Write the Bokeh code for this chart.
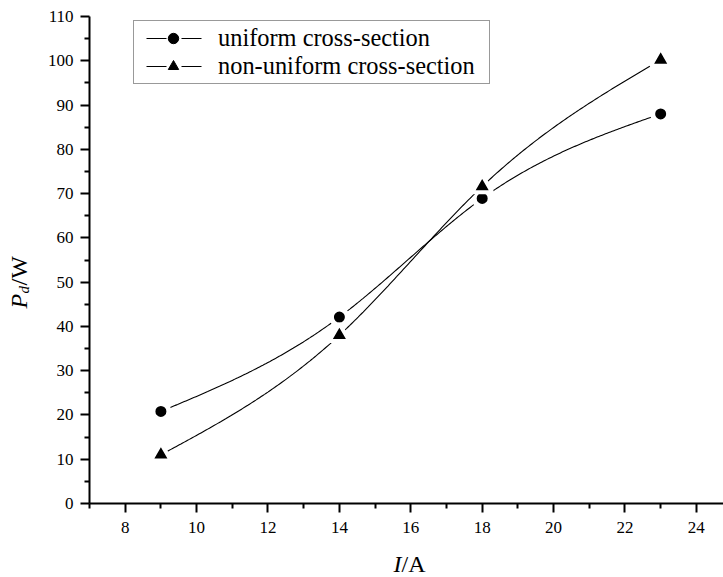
import numpy as np
from bokeh.plotting import figure
from bokeh.layouts import column, row
from bokeh.models import Range1d, FixedTicker, Legend, LegendItem, Label, LinearAxis
from bokeh.embed import file_html
from bokeh.resources import INLINE

# ---- data ----
current_a = [9, 14, 18, 23]
uniform_w = [20.8, 42.1, 68.9, 88.0]
nonuniform_w = [11.0, 38.0, 71.6, 100.2]
series_names = ["uniform cross-section", "non-uniform cross-section"]
x_ticks = [8, 10, 12, 14, 16, 18, 20, 22, 24]
x_minor = [7, 9, 11, 13, 15, 17, 19, 21, 23, 25]
y_ticks = [0, 10, 20, 30, 40, 50, 60, 70, 80, 90, 100, 110]
y_minor = [5, 15, 25, 35, 45, 55, 65, 75, 85, 95, 105]

SERIF = "Liberation Serif"
W, H = 723, 577
YSTRIP = 36          # width of the strip holding the y title
MAIN_H = 545         # height of the main chart figure


def natural_spline(xs, ys, n=300):
    xs = np.asarray(xs, float)
    ys = np.asarray(ys, float)
    m = len(xs)
    h = np.diff(xs)
    A = np.zeros((m, m))
    rhs = np.zeros(m)
    A[0, 0] = 1
    A[-1, -1] = 1
    for i in range(1, m - 1):
        A[i, i - 1] = h[i - 1]
        A[i, i] = 2 * (h[i - 1] + h[i])
        A[i, i + 1] = h[i]
        rhs[i] = 6 * ((ys[i + 1] - ys[i]) / h[i] - (ys[i] - ys[i - 1]) / h[i - 1])
    M = np.linalg.solve(A, rhs)
    xx = np.linspace(xs[0], xs[-1], n)
    idx = np.clip(np.searchsorted(xs, xx, side="right") - 1, 0, m - 2)
    x0 = xs[idx]
    x1 = xs[idx + 1]
    hh = x1 - x0
    t0 = x1 - xx
    t1 = xx - x0
    yy = (M[idx] * t0 ** 3 / (6 * hh) + M[idx + 1] * t1 ** 3 / (6 * hh)
          + (ys[idx] / hh - M[idx] * hh / 6) * t0
          + (ys[idx + 1] / hh - M[idx + 1] * hh / 6) * t1)
    return xx, yy


# ---------------- main chart ----------------
p = figure(width=W - YSTRIP, height=MAIN_H, output_backend="svg", toolbar_location=None,
           x_range=Range1d(7, 24.76), y_range=Range1d(0, 110),
           x_axis_type=None, y_axis_type=None,
           min_border_left=89 - YSTRIP, min_border_right=0, min_border_top=16,
           min_border_bottom=MAIN_H - 503, title=None)
p.outline_line_color = None
p.grid.visible = False
p.background_fill_color = "white"
p.border_fill_color = "white"

ax_style = dict(axis_line_width=2, axis_line_color="black",
                major_tick_line_width=2, minor_tick_line_width=2,
                major_tick_line_color="black", minor_tick_line_color="black",
                major_tick_out=9, major_tick_in=0, minor_tick_out=5, minor_tick_in=0,
                major_label_text_font="serif", major_label_text_font_size="17px",
                major_label_text_color="black")
xa = LinearAxis(ticker=FixedTicker(ticks=x_ticks, minor_ticks=x_minor),
                major_label_standoff=9, **ax_style)
ya = LinearAxis(ticker=FixedTicker(ticks=y_ticks, minor_ticks=y_minor),
                major_label_standoff=7, **ax_style)
p.add_layout(xa, "below")
p.add_layout(ya, "left")

markers = ["circle", "triangle"]
msize = [16, 20]
mline = [5, 4]
for ys, mk, s, lw in zip((uniform_w, nonuniform_w), markers, msize, mline):
    xx, yy = natural_spline(current_a, ys)
    p.line(xx, yy, line_color="black", line_width=1.1)
    p.scatter(current_a, ys, marker=mk, size=s, fill_color="black",
              line_color="white", line_width=lw)

items = []
for name, mk in zip(series_names, markers):
    lr = p.line([float("nan")], [float("nan")], line_color="black", line_width=1,
                line_dash="0 9 20 15 20 8")
    sr = p.scatter([float("nan")], [float("nan")], marker=mk, fill_color="black",
                   line_color="black", line_width=1)
    items.append(LegendItem(label=name, renderers=[lr, sr]))

legend = Legend(items=items, location=(44, 419), label_text_font=SERIF,
                label_text_font_size="24.4px", label_text_color="black",
                glyph_width=72, glyph_height=26, label_height=26, label_width=268,
                label_standoff=9, spacing=0, padding=3, margin=0,
                border_line_color="#333333", border_line_width=1,
                background_fill_color="white", background_fill_alpha=1)
p.add_layout(legend)


def strip(width, height):
    f = figure(width=width, height=height, output_backend="svg", toolbar_location=None,
               x_range=Range1d(0, width), y_range=Range1d(0, height),
               x_axis_type=None, y_axis_type=None, title=None,
               min_border=0, min_border_left=0, min_border_right=0,
               min_border_top=0, min_border_bottom=0)
    f.outline_line_color = None
    f.grid.visible = False
    f.border_fill_color = "white"
    f.background_fill_color = "white"
    return f


def lab(fig, x, y, text, size, style="normal", angle=0.0):
    fig.add_layout(Label(x=x, y=y, x_units="screen", y_units="screen", text=text,
                         angle=angle, text_font=SERIF, text_font_size=size,
                         text_font_style=style, text_color="black",
                         text_align="left", text_baseline="alphabetic"))


# y title strip:  P_d/W  (reads bottom to top)
yfig = strip(YSTRIP, MAIN_H)
lab(yfig, 18, 195, "P", "24px", "italic", np.pi / 2)
lab(yfig, 23, 210, "d", "15px", "italic", np.pi / 2)
lab(yfig, 18, 218, "/W", "24px", "normal", np.pi / 2)

# x title strip:  I/A
xfig = strip(W, H - MAIN_H)
lab(xfig, 393, 14, "I", "24px", "italic")
lab(xfig, 401, 14, "/A", "24px", "normal")

layout = column(row(yfig, p, spacing=0), xfig, spacing=0)
open("out.html", "w").write(file_html(layout, INLINE))
